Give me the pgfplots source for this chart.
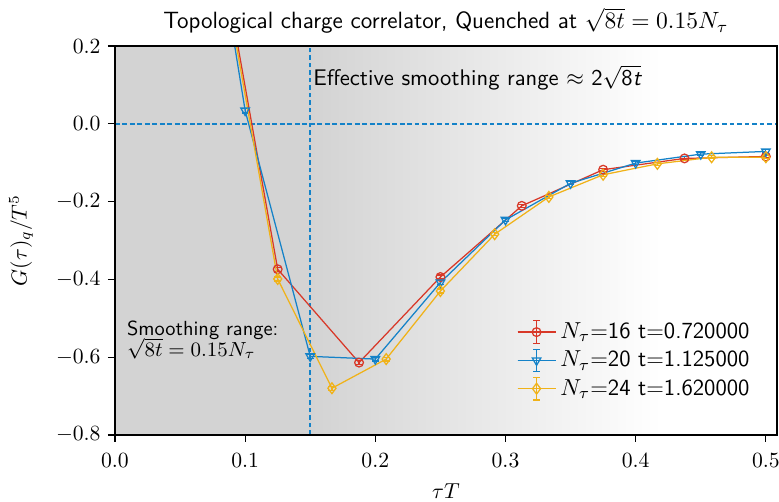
\RequirePackage{fix-cm}
\documentclass[border=0pt]{standalone}
\usepackage{pgfplots}
\pgfplotsset{compat=1.18}
\renewcommand{\familydefault}{\sfdefault}
\definecolor{cred}{RGB}{216,56,40}
\definecolor{cblue}{RGB}{20,130,200}
\definecolor{cyel}{RGB}{240,178,24}
\definecolor{bggray}{RGB}{211,211,211}
\begin{document}
\begin{tikzpicture}[font=\fontsize{10.4}{12.5}\selectfont]
\begin{axis}[
  name=ax,
  scale only axis, axis on top,
  width=317.8pt, height=186.7pt,
  xmin=0, xmax=0.5085, ymin=-0.8, ymax=0.2,
  xtick={0,0.1,0.2,0.3,0.4,0.5},
  ytick={-0.8,-0.6,-0.4,-0.2,0,0.2},
  xticklabel style={yshift=-2pt,/pgf/number format/.cd,fixed,fixed zerofill,precision=1},
  yticklabel style={/pgf/number format/.cd,fixed,fixed zerofill,precision=1},
  tick align=outside, xtick pos=lower, ytick pos=left,
  major tick length=3.4pt,
  tick style={black, line width=0.6pt},
  axis line style={line width=0.6pt},
  xlabel={$\tau T$}, ylabel={$G(\tau)_q/T^5$},
  xlabel style={at={(axis description cs:0.5,-0.163)}, anchor=base},
  ylabel style={at={(axis description cs:-0.142,0.5)}, anchor=center},
  title={Topological charge correlator, Quenched at $\sqrt{8t}=0.15N_\tau$},
  title style={at={(axis description cs:0.5,1.012)}, anchor=base, font=\fontsize{11.3}{13}\selectfont},
  legend style={at={(axis description cs:0.975,0.072)}, anchor=south east, draw=none, fill=none, row sep=0.5pt, font=\fontsize{11.1}{13}\selectfont},
  legend cell align=left,
  legend image code/.code={
    \draw[#1] (0cm,0cm) -- (0.64cm,0cm);
    \draw[#1] (0.32cm,-0.19cm) -- (0.32cm,0.19cm);
    \draw[#1] (0.26cm,-0.19cm) -- (0.38cm,-0.19cm);
    \draw[#1] (0.26cm,0.19cm) -- (0.38cm,0.19cm);
    \draw[mark repeat=2,mark phase=2,#1] plot coordinates {(0cm,0cm) (0.32cm,0cm) (0.64cm,0cm)};
  },
  error bars/y dir=both, error bars/y explicit,
  error bars/error mark options={rotate=90, mark size=1.7pt, line width=0.6pt},
  error bars/error bar style={line width=0.6pt},
]
\fill[bggray] (axis cs:0,-0.8) rectangle (axis cs:0.15,0.2);
\shade[left color=bggray, right color=white, shading angle=90] (axis cs:0.1499,-0.8) rectangle (axis cs:0.42,0.2);
\draw[cblue, line width=0.75pt, dash pattern=on 2.2pt off 1.4pt] (axis cs:0.15,-0.8) -- (axis cs:0.15,0.2);
\draw[cblue, line width=0.75pt, dash pattern=on 2.2pt off 1.4pt] (axis cs:0,0) -- (axis cs:0.5085,0);

\addplot[cred, line width=0.6pt, mark=o, mark size=2.1pt, mark options={line width=0.6pt}] table[x=x,y=y,y error=e] {
x y e
0.0625 0.80 0.01
0.125 -0.374 0.005
0.1875 -0.614 0.005
0.25 -0.394 0.005
0.3125 -0.211 0.004
0.375 -0.118 0.004
0.4375 -0.089 0.004
0.5 -0.084 0.004
};
\addlegendentry{$N_\tau$=16 t=0.720000}

\addplot[cblue, line width=0.6pt, mark=triangle, mark size=2.4pt, mark options={rotate=180, line width=0.6pt}] table[x=x,y=y,y error=e] {
x y e
0.05 1.07 0.01
0.10 0.034 0.006
0.15 -0.598 0.005
0.20 -0.605 0.005
0.25 -0.408 0.005
0.30 -0.247 0.004
0.35 -0.153 0.004
0.40 -0.101 0.004
0.45 -0.078 0.004
0.50 -0.071 0.004
};
\addlegendentry{$N_\tau$=20 t=1.125000}

\addplot[cyel, line width=0.6pt, mark=diamond, mark size=2.6pt, mark options={line width=0.6pt}] table[x=x,y=y,y error=e] {
x y e
0.041667 1.40 0.01
0.083333 0.39 0.01
0.125 -0.399 0.005
0.166667 -0.680 0.005
0.208333 -0.605 0.005
0.25 -0.430 0.005
0.291667 -0.284 0.004
0.333333 -0.188 0.004
0.375 -0.131 0.004
0.416667 -0.103 0.004
0.458333 -0.086 0.004
0.5 -0.086 0.004
};
\addlegendentry{$N_\tau$=24 t=1.620000}

\node[anchor=west, inner sep=0pt, font=\fontsize{10.85}{13}\selectfont] at (axis cs:0.152,0.118) {Effective smoothing range $\approx$ \textsf{2}$\sqrt{\textsf{8}\textsf{\itshape t}}$};
\node[anchor=north west, inner sep=0pt, align=left, font=\fontsize{9.8}{11.8}\selectfont] at (axis cs:0.009,-0.505) {Smoothing range:\\[-1.5pt]$\sqrt{8t}=0.15N_\tau$};
\end{axis}
\pgfresetboundingbox
\path ([xshift=-55.2pt,yshift=-31.9pt]ax.south west) rectangle ([xshift=1pt,yshift=22.1pt]ax.north east);
\end{tikzpicture}
\end{document}
